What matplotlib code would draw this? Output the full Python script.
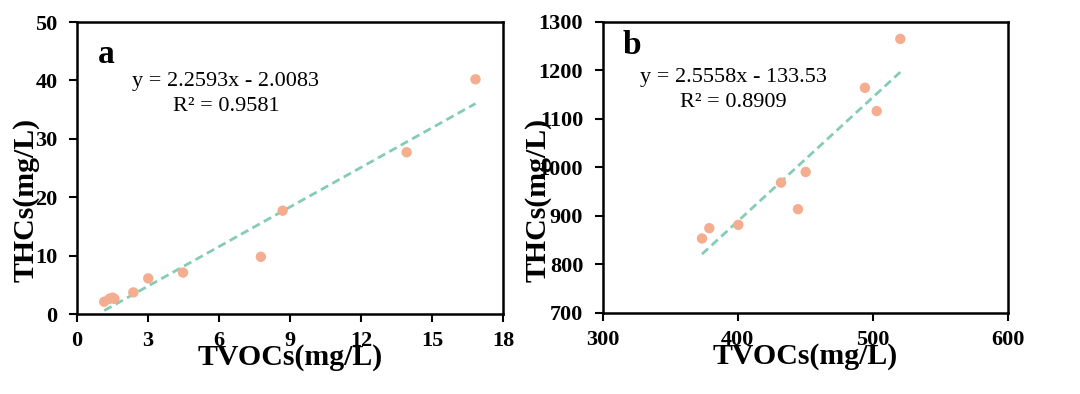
import matplotlib
matplotlib.use("Agg")
import matplotlib.pyplot as plt
import numpy as np

plt.rcParams['font.family'] = ['Liberation Serif', 'DejaVu Serif']

# Panel a data
tvoc_a = [1.15, 1.37, 1.50, 1.58, 2.38, 3.01, 4.48, 7.77, 8.69, 13.93, 16.84]
thc_a = [2.1, 2.6, 2.8, 2.6, 3.7, 6.1, 7.1, 9.8, 17.7, 27.7, 40.2]
slope_a, icpt_a = 2.2593, -2.0083
eq_a = ["y = 2.2593x - 2.0083", "R² = 0.9581"]

# Panel b data
tvoc_b = [373.6, 379.0, 400.5, 432.1, 444.7, 450.4, 494.3, 503.0, 520.5]
thc_b = [853.6, 874.9, 881.7, 968.8, 914.0, 990.8, 1164.3, 1116.3, 1265.1]
slope_b, icpt_b = 2.5558, -133.53
eq_b = ["y = 2.5558x - 133.53", "R² = 0.8909"]

xticks_a = [0, 3, 6, 9, 12, 15, 18]
yticks_a = [0, 10, 20, 30, 40, 50]
xticks_b = [300, 400, 500, 600]
yticks_b = [700, 800, 900, 1000, 1100, 1200, 1300]

pt_color = '#F5AD90'
ln_color = '#85CDB2'

fig = plt.figure(figsize=(10.8, 3.94), dpi=100)
axa = fig.add_axes([0.0713, 0.203, 0.3944, 0.741])
axb = fig.add_axes([0.558, 0.2056, 0.375, 0.7386])

def style(ax, xt, yt, ylpos, label, labpos, eq, xs, ys, m, c, eqpos, r2x):
    ax.scatter(xs, ys, s=56, color=pt_color, zorder=3, edgecolors='none')
    xx = np.array([min(xs), max(xs)])
    ax.plot(xx, m * xx + c, linestyle=(0, (3, 1.7)), color=ln_color, lw=2, zorder=2)
    ax.set_xlim(xt[0], xt[-1])
    ax.set_ylim(yt[0], yt[-1])
    ax.set_xticks(xt)
    ax.set_yticks(yt)
    for s in ax.spines.values():
        s.set_linewidth(1.8)
    ax.tick_params(direction='out', length=6, width=1.5, labelsize=16)
    ax.tick_params(axis='x', pad=6)
    ax.tick_params(axis='y', pad=8)
    for t in ax.get_xticklabels() + ax.get_yticklabels():
        t.set_fontweight('bold')
    ax.set_xlabel("TVOCs(mg/L)", fontsize=21.5, fontweight='bold', labelpad=-5)
    ax.set_ylabel("THCs(mg/L)", fontsize=21.5, fontweight='bold', va='center', ha='center')
    ax.yaxis.set_label_coords(ylpos[0], ylpos[1])
    ax.text(labpos[0], labpos[1], label, transform=ax.transAxes, fontsize=24, fontweight='bold', va='center')
    ax.text(eqpos[0], eqpos[1], eq[0], transform=ax.transAxes, fontsize=16, va='center')
    ax.text(r2x, eqpos[1] - 0.085, eq[1], transform=ax.transAxes, fontsize=16, va='center')

style(axa, xticks_a, yticks_a, (-0.120, 0.39), 'a', (0.05, 0.89), eq_a, tvoc_a, thc_a, slope_a, icpt_a, (0.128, 0.796), 0.225)
style(axb, xticks_b, yticks_b, (-0.160, 0.388), 'b', (0.05, 0.918), eq_b, tvoc_b, thc_b, slope_b, icpt_b, (0.093, 0.808), 0.19)

fig.savefig("out.png", dpi=100)
